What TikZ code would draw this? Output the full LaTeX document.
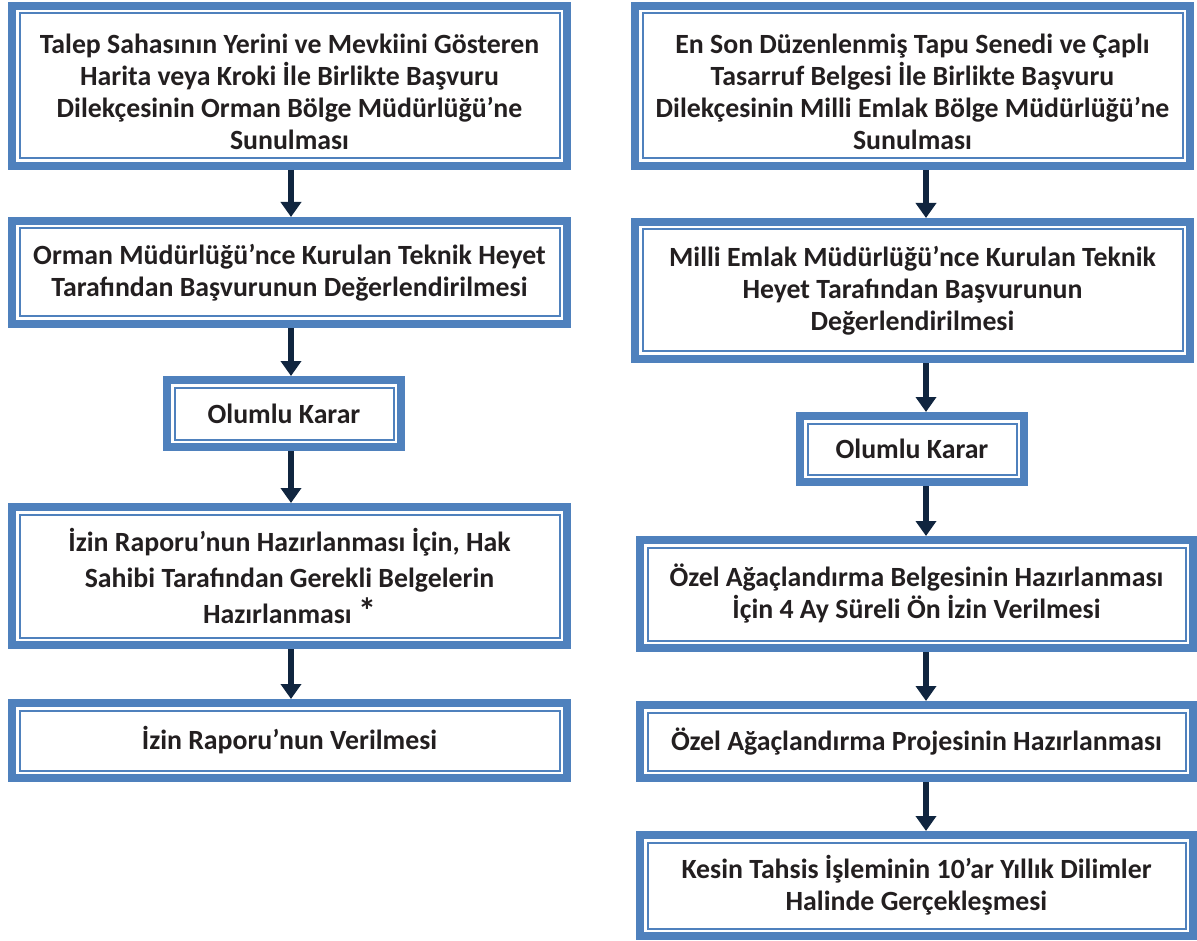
\documentclass[tikz,border=0pt]{standalone}
\usepackage{fontspec}
\setmainfont{Carlito}
\usetikzlibrary{arrows.meta,fit}
\definecolor{mavi}{RGB}{79,129,189}
\definecolor{lacivert}{RGB}{16,37,63}
\definecolor{yazi}{RGB}{35,31,32}
\tikzset{
  kutu/.style={draw=mavi, line width=2, fill=white, inner sep=0, outer sep=0,
    align=center, text=yazi, font=\fontsize{27.8}{32}\selectfont\bfseries},
  cerceve/.style={draw=mavi, line width=8, inner sep=7.5, outer sep=4},
  ok/.style={draw=lacivert, line width=6, -{Triangle[width=20pt,length=15pt]}}
}
\begin{document}
\begin{tikzpicture}[x=1pt,y=-1pt]
   \useasboundingbox (0,0) rectangle (1197,941);
   % sol sutun
   \node[kutu, minimum width=540, minimum height=145] (l1) at (289.5,86)
      {\rule{0pt}{32pt}Talep Sahasının Yerini ve Mevkiini Gösteren\\Harita veya Kroki İle Birlikte Başvuru\\Dilekçesinin Orman Bölge Müdürlüğü’ne\\Sunulması};
   \node[kutu, minimum width=540, minimum height=88] (l2) at (289.5,272.5)
      {Orman Müdürlüğü’nce Kurulan Teknik Heyet\\Tarafından Başvurunun Değerlendirilmesi};
   \node[kutu, minimum width=219, minimum height=52] (l3) at (284,413.5) {Olumlu Karar};
   \node[kutu, minimum width=540, minimum height=123, font=\fontsize{27.8}{36}\selectfont\bfseries] (l4) at (289.5,576)
      {İzin Raporu’nun Hazırlanması İçin, Hak\\Sahibi Tarafından Gerekli Belgelerin\\Hazırlanması {\fontsize{36}{36}\selectfont *}};
   \node[kutu, minimum width=540, minimum height=60] (l5) at (289.5,740.5) {İzin Raporu’nun Verilmesi};
   % sag sutun
   \node[kutu, minimum width=540, minimum height=145] (r1) at (912.5,86)
      {\rule{0pt}{32pt}En Son Düzenlenmiş Tapu Senedi ve Çaplı\\Tasarruf Belgesi İle Birlikte Başvuru\\Dilekçesinin Milli Emlak Bölge Müdürlüğü’ne\\Sunulması};
   \node[kutu, minimum width=540, minimum height=122] (r2) at (912.5,290.5)
      {Milli Emlak Müdürlüğü’nce Kurulan Teknik\\Heyet Tarafından Başvurunun\\Değerlendirilmesi};
   \node[kutu, minimum width=209, minimum height=51] (r3) at (912,449) {Olumlu Karar};
   \node[kutu, minimum width=538, minimum height=93] (r4) at (916.5,594)
      {Özel Ağaçlandırma Belgesinin Hazırlanması\\İçin 4 Ay Süreli Ön İzin Verilmesi};
   \node[kutu, minimum width=538, minimum height=58] (r5) at (916.5,741.5) {Özel Ağaçlandırma Projesinin Hazırlanması};
   \node[kutu, minimum width=538, minimum height=86] (r6) at (916.5,885.5)
      {Kesin Tahsis İşleminin 10’ar Yıllık Dilimler\\Halinde Gerçekleşmesi};

   \foreach \n in {l1,l2,l3,l4,l5,r1,r2,r3,r4,r5,r6}
   {
       \node[cerceve, fit=(\n)] (c\n) {};
   }

   \coordinate (solok) at (291,0);
   \coordinate (sagok) at (926,0);
   \foreach \a/\b in {l1/l2, l2/l3, l3/l4, l4/l5}
   {
       \draw[ok] (c\a.south -| solok) -- (c\b.north -| solok);
   }
   \foreach \a/\b in {r1/r2, r2/r3, r3/r4, r4/r5, r5/r6}
   {
       \draw[ok] (c\a.south -| sagok) -- (c\b.north -| sagok);
   }
\end{tikzpicture}
\end{document}
